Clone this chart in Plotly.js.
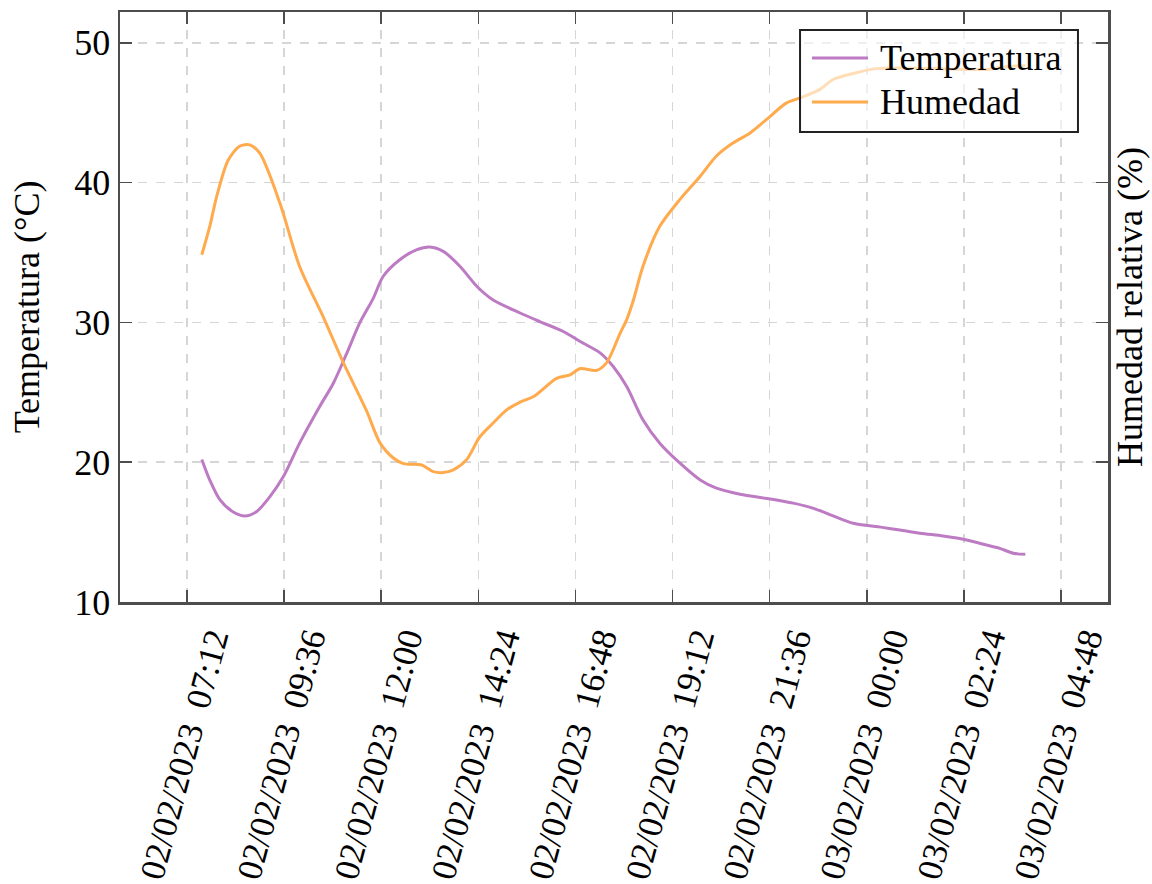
<!DOCTYPE html>
<html>
<head>
<meta charset="utf-8">
<script src="https://cdn.plot.ly/plotly-3.0.1.min.js"></script>
<style>
  html, body { margin: 0; padding: 0; background: #fff; }
  #chart { width: 1152px; height: 884px; }
</style>
</head>
<body>
<div id="chart"></div>
<script>
// Sensor log, 02/02/2023 07:34 to 03/02/2023 03:55
const tempTimes = [
  '2023-02-02 07:34', '2023-02-02 07:46', '2023-02-02 08:01', '2023-02-02 08:20',
  '2023-02-02 08:38', '2023-02-02 08:55', '2023-02-02 09:15', '2023-02-02 09:35',
  '2023-02-02 09:59', '2023-02-02 10:29', '2023-02-02 10:49', '2023-02-02 11:09',
  '2023-02-02 11:28', '2023-02-02 11:48', '2023-02-02 12:03', '2023-02-02 12:28',
  '2023-02-02 12:53', '2023-02-02 13:12', '2023-02-02 13:32', '2023-02-02 13:57',
  '2023-02-02 14:22', '2023-02-02 14:46', '2023-02-02 15:26', '2023-02-02 15:55',
  '2023-02-02 16:30', '2023-02-02 16:55', '2023-02-02 17:25', '2023-02-02 17:44',
  '2023-02-02 18:04', '2023-02-02 18:28', '2023-02-02 18:53', '2023-02-02 19:23',
  '2023-02-02 19:53', '2023-02-02 20:17', '2023-02-02 20:52', '2023-02-02 21:37',
  '2023-02-02 22:11', '2023-02-02 22:41', '2023-02-02 23:10', '2023-02-02 23:40',
  '2023-02-03 00:25', '2023-02-03 00:49', '2023-02-03 01:19', '2023-02-03 01:53',
  '2023-02-03 02:23', '2023-02-03 02:53', '2023-02-03 03:17', '2023-02-03 03:37',
  '2023-02-03 03:55'
];
const temperatura = [
  20.2, 18.7, 17.3, 16.46,
  16.16, 16.46, 17.54, 18.97,
  21.36, 24.0, 25.65, 27.8,
  29.95, 31.7, 33.3, 34.5,
  35.2, 35.39, 35.08, 34.0,
  32.57, 31.6, 30.67, 30.06,
  29.35, 28.63, 27.8, 26.84,
  25.41, 23.03, 21.36, 19.93,
  18.73, 18.14, 17.71, 17.37,
  17.07, 16.7, 16.16, 15.63,
  15.32, 15.15, 14.92, 14.72,
  14.49, 14.13, 13.84, 13.49,
  13.41
];

const humTimes = [
  '2023-02-02 07:34', '2023-02-02 07:46', '2023-02-02 07:56', '2023-02-02 08:13',
  '2023-02-02 08:30', '2023-02-02 08:45', '2023-02-02 09:00', '2023-02-02 09:30',
  '2023-02-02 09:59', '2023-02-02 10:34', '2023-02-02 11:04', '2023-02-02 11:38',
  '2023-02-02 11:58', '2023-02-02 12:18', '2023-02-02 12:33', '2023-02-02 13:00',
  '2023-02-02 13:17', '2023-02-02 13:32', '2023-02-02 13:47', '2023-02-02 14:07',
  '2023-02-02 14:26', '2023-02-02 14:46', '2023-02-02 15:06', '2023-02-02 15:26',
  '2023-02-02 15:46', '2023-02-02 16:20', '2023-02-02 16:40', '2023-02-02 16:55',
  '2023-02-02 17:19', '2023-02-02 17:34', '2023-02-02 17:54', '2023-02-02 18:04',
  '2023-02-02 18:14', '2023-02-02 18:28', '2023-02-02 18:53', '2023-02-02 19:23',
  '2023-02-02 19:53', '2023-02-02 20:17', '2023-02-02 20:42', '2023-02-02 21:07',
  '2023-02-02 21:31', '2023-02-02 22:01', '2023-02-02 22:21', '2023-02-02 22:50',
  '2023-02-02 23:10', '2023-02-02 23:40', '2023-02-03 00:14', '2023-02-03 00:54',
  '2023-02-03 01:36', '2023-02-03 02:18', '2023-02-03 03:00', '2023-02-03 03:30',
  '2023-02-03 03:55'
];
const humedad = [
  34.84, 36.9, 39.0, 41.6,
  42.6, 42.7, 42.1, 38.5,
  34.0, 30.4, 27.1, 23.7,
  21.4, 20.3, 19.9, 19.8,
  19.33, 19.26, 19.45, 20.2,
  21.8, 22.8, 23.74, 24.3,
  24.7, 26.0, 26.25, 26.7,
  26.56, 27.1, 29.2, 30.2,
  31.6, 34.0, 36.87, 38.8,
  40.45, 41.9, 42.84, 43.55,
  44.5, 45.7, 46.05, 46.65,
  47.37, 47.8, 48.15, 48.2,
  48.15, 48.1, 48.1, 48.3,
  48.35
];

// Axis ticks
const xTickVals = [
  '2023-02-02 07:12', '2023-02-02 09:36', '2023-02-02 12:00', '2023-02-02 14:24',
  '2023-02-02 16:48', '2023-02-02 19:12', '2023-02-02 21:36', '2023-02-03 00:00',
  '2023-02-03 02:24', '2023-02-03 04:48'
];
const xTickText = [
  '02/02/2023\u00a0\u00a007:12', '02/02/2023\u00a0\u00a009:36',
  '02/02/2023\u00a0\u00a012:00', '02/02/2023\u00a0\u00a014:24',
  '02/02/2023\u00a0\u00a016:48', '02/02/2023\u00a0\u00a019:12',
  '02/02/2023\u00a0\u00a021:36', '03/02/2023\u00a0\u00a000:00',
  '03/02/2023\u00a0\u00a002:24', '03/02/2023\u00a0\u00a004:48'
];
const yTickVals = [10, 20, 30, 40, 50];

// Series labels and colours
const seriesNames = ['Temperatura', 'Humedad'];
const seriesColors = ['#bd7bc4', '#ffaa4d'];

const FONT = '"Liberation Serif", "Times New Roman", serif';
const FS = 36;
const AXIS = '#4d4d4d';
const GRID = '#d6d6d6';
const Y_RANGE = [10, 52.2];

const traces = [
  {
    x: tempTimes, y: temperatura, type: 'scatter', mode: 'lines',
    name: seriesNames[0], line: { color: seriesColors[0], width: 3, shape: 'spline', smoothing: 0.8 },
    yaxis: 'y', showlegend: false
  },
  {
    x: humTimes, y: humedad, type: 'scatter', mode: 'lines',
    name: seriesNames[1], line: { color: seriesColors[1], width: 3, shape: 'spline', smoothing: 0.8 },
    yaxis: 'y2', showlegend: false
  }
];

// Legend box drawn in paper coordinates (semi-transparent, over the curves)
const legendBox = { x0: 0.6883, x1: 0.9696, y0: 0.7966, y1: 0.9695 };
const legendRowY = [0.922, 0.8475];
const legendLineX = [0.7004, 0.7571];
const legendTextX = 0.7672;

const shapes = [
  {
    type: 'rect', xref: 'paper', yref: 'paper', layer: 'above',
    x0: legendBox.x0, x1: legendBox.x1, y0: legendBox.y0, y1: legendBox.y1,
    fillcolor: 'rgba(255,255,255,0.6)', line: { color: '#222', width: 2 }
  }
];
const annotations = [];
seriesNames.forEach((name, i) => {
  shapes.push({
    type: 'line', xref: 'paper', yref: 'paper', layer: 'above',
    x0: legendLineX[0], x1: legendLineX[1], y0: legendRowY[i], y1: legendRowY[i],
    line: { color: seriesColors[i], width: 3 }
  });
  annotations.push({
    xref: 'paper', yref: 'paper', x: legendTextX, y: legendRowY[i],
    xanchor: 'left', yanchor: 'middle', showarrow: false,
    text: name, font: { family: FONT, size: FS, color: '#000' }
  });
});

const layout = {
  width: 1152, height: 884,
  margin: { l: 120, r: 44, t: 12, b: 282 },
  paper_bgcolor: '#fff', plot_bgcolor: '#fff',
  font: { family: FONT, size: FS, color: '#000' },
  showlegend: false,
  xaxis: {
    type: 'date',
    range: ['2023-02-02 05:32:42', '2023-02-03 05:57:36'],
    tickmode: 'array', tickvals: xTickVals, ticktext: xTickText,
    tickangle: -75, ticklabelshift: 25,
    tickfont: { family: FONT, size: 35, color: '#000' },
    ticks: 'inside', ticklen: 12, tickwidth: 1.5, tickcolor: AXIS,
    showline: true, linecolor: AXIS, linewidth: 2.5, mirror: 'ticks',
    showgrid: true, gridcolor: GRID, gridwidth: 1.5, griddash: 'dash',
    zeroline: false
  },
  yaxis: {
    range: Y_RANGE,
    tickmode: 'array', tickvals: yTickVals,
    tickfont: { family: FONT, size: FS, color: '#000' },
    ticks: 'inside', ticklen: 12, tickwidth: 1.5, tickcolor: AXIS,
    showline: true, linecolor: AXIS, linewidth: 2.5, mirror: true,
    showgrid: true, gridcolor: GRID, gridwidth: 1.5, griddash: 'dash',
    zeroline: false,
    title: { text: 'Temperatura (°C)', font: { family: FONT, size: FS, color: '#000' }, standoff: 24 }
  },
  yaxis2: {
    overlaying: 'y', side: 'right',
    range: Y_RANGE,
    tickmode: 'array', tickvals: yTickVals,
    showticklabels: false,
    ticks: 'inside', ticklen: 12, tickwidth: 1.5, tickcolor: AXIS,
    showline: true, linecolor: AXIS, linewidth: 2.5,
    showgrid: false, zeroline: false,
    title: { text: 'Humedad relativa (%)', font: { family: FONT, size: FS, color: '#000' }, standoff: 8 }
  },
  shapes: shapes,
  annotations: annotations
};

Plotly.newPlot('chart', traces, layout, { displayModeBar: false, staticPlot: true });
</script>
</body>
</html>
